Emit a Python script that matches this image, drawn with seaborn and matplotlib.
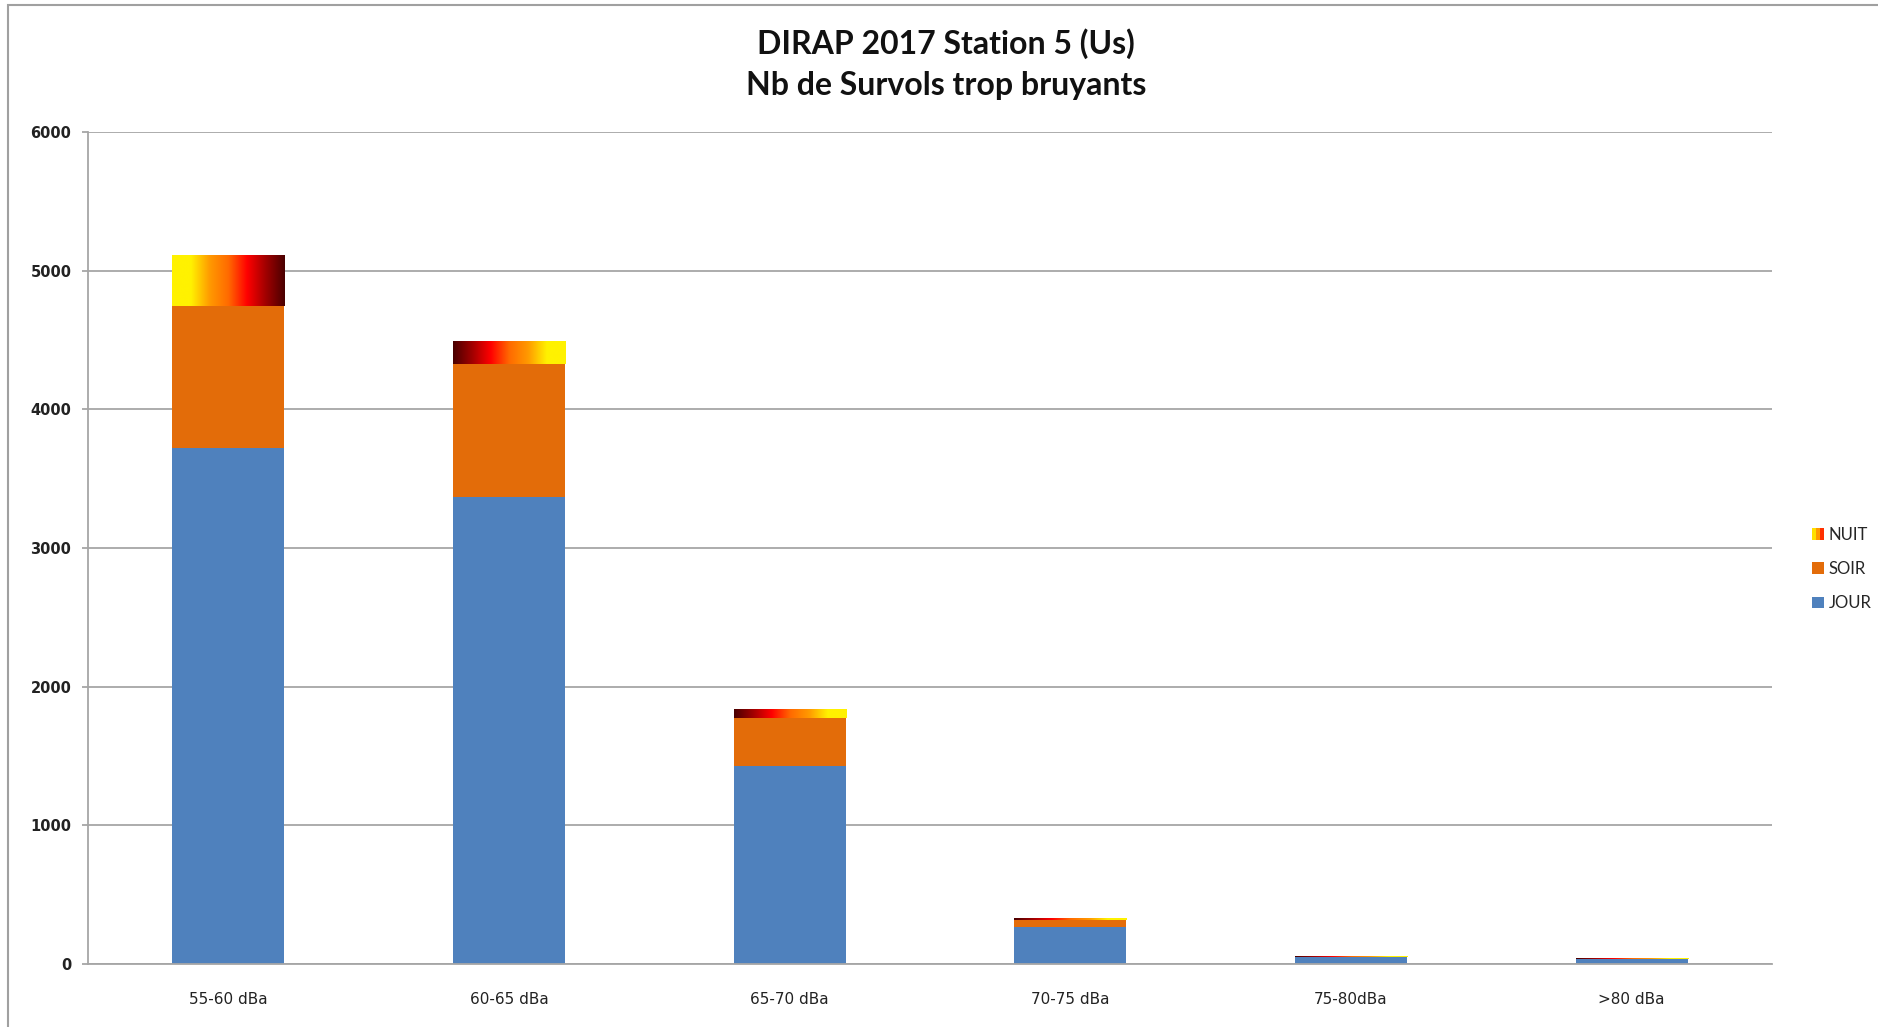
import numpy as np
import pandas as pd
import seaborn as sns
import matplotlib.pyplot as plt
from matplotlib.colors import LinearSegmentedColormap
from matplotlib.patches import Patch, Rectangle
from matplotlib.legend_handler import HandlerTuple

# data
categories = ['55-60 dBa', '60-65 dBa', '65-70 dBa', '70-75 dBa', '75-80dBa', '>80 dBa']
jour = [3720, 3370, 1430, 265, 50, 33]
soir = [1025, 955, 345, 55, 3, 3]
nuit = [365, 165, 60, 8, 1, 1]
y_ticks = [0, 1000, 2000, 3000, 4000, 5000, 6000]

# colours
jour_col = '#4F81BD'
soir_col = '#E36C09'
nuit_stops = ['#FFF200', '#FFF200', '#FF9A00', '#FF6A00', '#FF0000', '#A00000', '#4A0000']
nuit_flip = [False, True, True, True, True, True]   # gradient direction per bar
grid_col = '#A6A6A6'

df = pd.DataFrame({'cat': categories, 'jour': jour, 'soir': soir, 'nuit': nuit})
df['js'] = df['jour'] + df['soir']
df['total'] = df['js'] + df['nuit']

sns.set_style('white')
plt.rcParams['font.family'] = ['Lato', 'DejaVu Sans']

W, H = 1878, 1027
fig = plt.figure(figsize=(W / 100, H / 100), dpi=100)
ax = fig.add_axes([88 / W, 1 - 964 / H, (1772 - 88) / W, (964 - 132) / H])

ax.yaxis.grid(True, color=grid_col, lw=1.3)
ax.set_axisbelow(True)

# stacked bars drawn as overlapping cumulative bars
bar_kw = dict(width=0.4, saturation=1, linewidth=0, ax=ax)
sns.barplot(data=df, x='cat', y='total', color=nuit_stops[3], **bar_kw)
sns.barplot(data=df, x='cat', y='js', color=soir_col, **bar_kw)
sns.barplot(data=df, x='cat', y='jour', color=jour_col, **bar_kw)

# gradient fill for the NUIT segment
cmap = LinearSegmentedColormap.from_list('nuit', nuit_stops)
grad = np.linspace(0, 1, 256).reshape(1, -1)
for bar, lo, hi, flip in zip(ax.patches[:len(categories)], df['js'], df['total'], nuit_flip):
    g = grad[:, ::-1] if flip else grad
    x0 = bar.get_x()
    ax.imshow(g, cmap=cmap, aspect='auto', interpolation='bicubic',
              extent=(x0, x0 + bar.get_width(), lo, hi), zorder=3)

ax.set_xlim(-0.5, len(categories) - 0.5)
ax.set_ylim(0, 6000)
ax.set_yticks(y_ticks)
ax.set_xlabel('')
ax.set_ylabel('')

for s in ['top', 'right']:
    ax.spines[s].set_visible(False)
for s in ['left', 'bottom']:
    ax.spines[s].set_color(grid_col)
    ax.spines[s].set_linewidth(1.3)

ax.tick_params(axis='y', left=True, length=4, width=1.3, color=grid_col, pad=8,
               labelsize=10.5, labelcolor='#222222')
ax.tick_params(axis='x', bottom=False, pad=17, labelsize=11, labelcolor='#222222')
for lab in ax.get_yticklabels():
    lab.set_family('DejaVu Sans')
    lab.set_fontweight('bold')
for lab in ax.get_xticklabels():
    lab.set_family('DejaVu Sans')

# title
fig.text(946 / W, 1 - 44 / H, 'DIRAP 2017 Station 5 (Us)', ha='center', va='center',
         fontsize=23, fontweight='bold', color='#111111')
fig.text(946 / W, 1 - 86 / H, 'Nb de Survols trop bruyants', ha='center', va='center',
         fontsize=23, fontweight='bold', color='#111111')

# legend
nuit_handle = tuple(Patch(facecolor=c, linewidth=0) for c in ['#FFE000', '#FF9A00', '#FF3000'])
handles = [nuit_handle, Patch(facecolor=soir_col, linewidth=0), Patch(facecolor=jour_col, linewidth=0)]
fig.legend(handles, ['NUIT', 'SOIR', 'JOUR'], loc='center left',
           bbox_to_anchor=(1797 / W, 1 - 569 / H), frameon=False, fontsize=12,
           handlelength=0.7, handleheight=0.7, handletextpad=0.3, labelspacing=1.1,
           handler_map={tuple: HandlerTuple(ndivide=None, pad=0)})

# chart border
fig.patches.append(Rectangle((8 / W, -0.01), 1.1, 1 - 5 / H + 0.01, transform=fig.transFigure,
                             fill=False, ec='#A0A0A0', lw=1.5))

fig.savefig('out.png', dpi=100)
